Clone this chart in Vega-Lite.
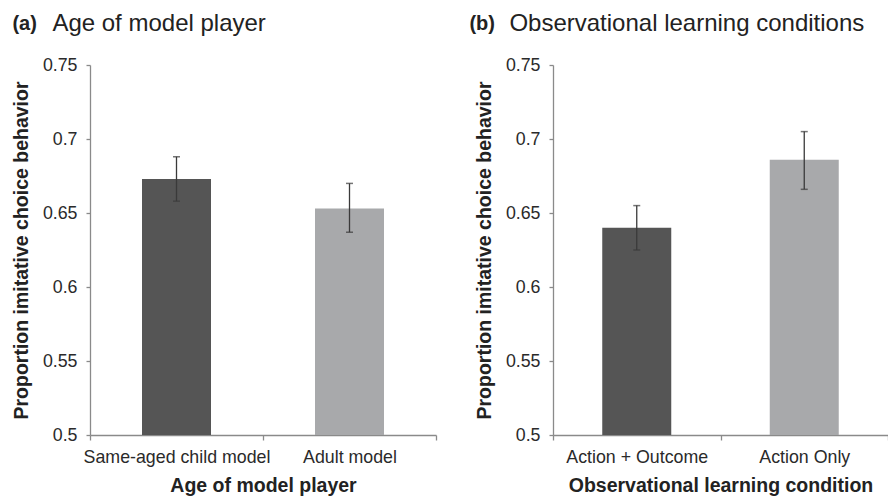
{
  "$schema": "https://vega.github.io/schema/vega-lite/v6.json",
  "padding": {"left": 11, "top": 12, "right": 0, "bottom": 0},
  "spacing": 32,
  "datasets": {
    "a": [
      {"condition": "Same-aged child model", "mean": 0.673, "lo": 0.658, "hi": 0.688},
      {"condition": "Adult model", "mean": 0.653, "lo": 0.637, "hi": 0.670}
    ],
    "b": [
      {"condition": "Action + Outcome", "mean": 0.640, "lo": 0.625, "hi": 0.655},
      {"condition": "Action Only", "mean": 0.686, "lo": 0.666, "hi": 0.705}
    ]
  },
  "config": {
    "font": "Liberation Sans",
    "view": {"stroke": null},
    "axis": {
      "domainColor": "#8a8a8a",
      "tickColor": "#8a8a8a",
      "domainWidth": 1.3,
      "tickWidth": 1.3,
      "labelColor": "#2a2a2a",
      "labelFontSize": 17.8,
      "labelFont": "Liberation Sans",
      "labelLimit": 400,
      "titleFont": "Liberation Sans",
      "titleColor": "#222222",
      "titleFontSize": 19.5,
      "titleFontWeight": "bold",
      "grid": false
    },
    "title": {
      "font": "Liberation Sans",
      "subtitleFont": "Liberation Sans"
    }
  },
  "hconcat": [
    {
      "width": 346,
      "height": 370,
      "data": {"name": "a"},
      "title": {
        "text": "(a)",
        "subtitle": "\u200b\u00a0\u00a0\u00a0\u00a0\u00a0\u00a0Age of model player",
        "anchor": "start",
        "frame": "bounds",
        "fontSize": 20,
        "fontWeight": "bold",
        "color": "#222222",
        "subtitleFontSize": 24,
        "subtitleFontWeight": "normal",
        "subtitleColor": "#222222",
        "subtitlePadding": -22,
        "offset": 18,
        "dx": 1
      },
      "encoding": {
        "x": {
          "field": "condition",
          "type": "nominal",
          "sort": null,
          "scale": {"paddingInner": 0, "paddingOuter": 0},
          "axis": {
            "title": "Age of model player",
            "labelAngle": 0,
            "tickBand": "extent",
            "tickSize": 5,
            "labelPadding": 8,
            "titlePadding": 11
          }
        }
      },
      "layer": [
        {
          "mark": {"type": "bar", "size": 69},
          "encoding": {
            "y": {
              "field": "mean",
              "type": "quantitative",
              "scale": {"domain": [0.5, 0.75], "zero": false, "nice": false},
              "axis": {
                "title": "Proportion imitative choice behavior",
                "values": [0.5, 0.55, 0.6, 0.65, 0.7, 0.75],
                "format": ".2~f",
                "tickSize": 4,
                "labelPadding": 9,
                "titlePadding": 11
              }
            },
            "y2": {"datum": 0.5},
            "color": {
              "field": "condition",
              "type": "nominal",
              "scale": {"domain": ["Same-aged child model", "Adult model"], "range": ["#555555", "#a8a9ab"]},
              "legend": null
            }
          }
        },
        {
          "mark": {"type": "rule", "color": "#3a3a3a", "strokeWidth": 1.3},
          "encoding": {
            "y": {"field": "lo", "type": "quantitative"},
            "y2": {"field": "hi"}
          }
        },
        {
          "mark": {"type": "tick", "color": "#3a3a3a", "size": 7, "thickness": 1.5},
          "encoding": {"y": {"field": "lo", "type": "quantitative"}}
        },
        {
          "mark": {"type": "tick", "color": "#3a3a3a", "size": 7, "thickness": 1.5},
          "encoding": {"y": {"field": "hi", "type": "quantitative"}}
        }
      ]
    },
    {
      "width": 335,
      "height": 370,
      "data": {"name": "b"},
      "title": {
        "text": "(b)",
        "subtitle": "\u200b\u00a0\u00a0\u00a0\u00a0\u00a0\u00a0Observational learning conditions",
        "anchor": "start",
        "frame": "bounds",
        "fontSize": 20,
        "fontWeight": "bold",
        "color": "#222222",
        "subtitleFontSize": 24,
        "subtitleFontWeight": "normal",
        "subtitleColor": "#222222",
        "subtitlePadding": -22,
        "offset": 18,
        "dx": -5
      },
      "encoding": {
        "x": {
          "field": "condition",
          "type": "nominal",
          "sort": null,
          "scale": {"paddingInner": 0, "paddingOuter": 0},
          "axis": {
            "title": "Observational learning condition",
            "labelAngle": 0,
            "tickBand": "extent",
            "tickSize": 5,
            "labelPadding": 8,
            "titlePadding": 11
          }
        }
      },
      "layer": [
        {
          "mark": {"type": "bar", "size": 69},
          "encoding": {
            "y": {
              "field": "mean",
              "type": "quantitative",
              "scale": {"domain": [0.5, 0.75], "zero": false, "nice": false},
              "axis": {
                "title": "Proportion imitative choice behavior",
                "values": [0.5, 0.55, 0.6, 0.65, 0.7, 0.75],
                "format": ".2~f",
                "tickSize": 4,
                "labelPadding": 9,
                "titlePadding": 11
              }
            },
            "y2": {"datum": 0.5},
            "color": {
              "field": "condition",
              "type": "nominal",
              "scale": {"domain": ["Action + Outcome", "Action Only"], "range": ["#555555", "#a8a9ab"]},
              "legend": null
            }
          }
        },
        {
          "mark": {"type": "rule", "color": "#3a3a3a", "strokeWidth": 1.3},
          "encoding": {
            "y": {"field": "lo", "type": "quantitative"},
            "y2": {"field": "hi"}
          }
        },
        {
          "mark": {"type": "tick", "color": "#3a3a3a", "size": 7, "thickness": 1.5},
          "encoding": {"y": {"field": "lo", "type": "quantitative"}}
        },
        {
          "mark": {"type": "tick", "color": "#3a3a3a", "size": 7, "thickness": 1.5},
          "encoding": {"y": {"field": "hi", "type": "quantitative"}}
        }
      ]
    }
  ],
  "resolve": {"scale": {"color": "independent"}}
}
